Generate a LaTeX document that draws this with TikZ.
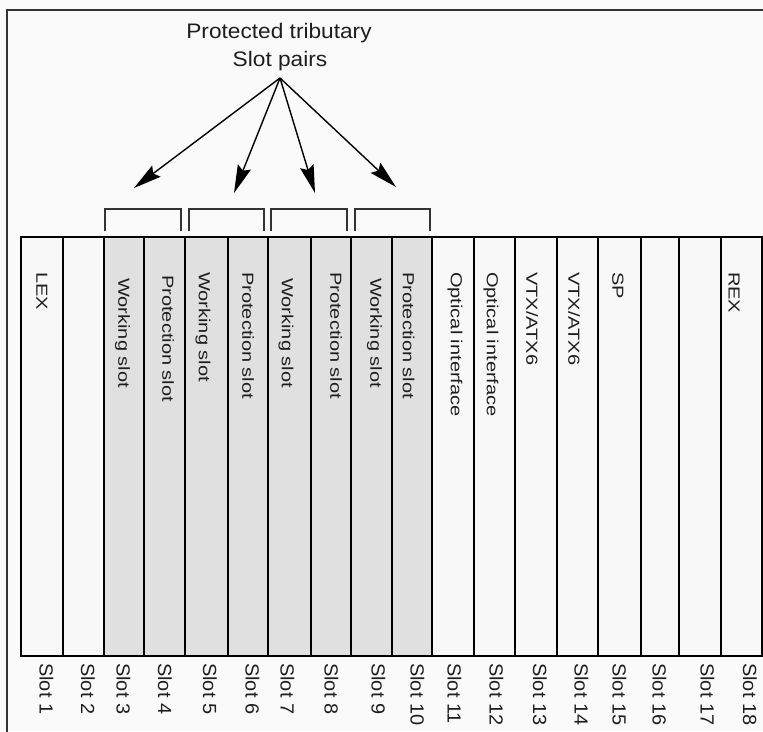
\documentclass[tikz,border=0pt]{standalone}
\usepackage{fontspec}
\setmainfont{Liberation Sans}
\usetikzlibrary{arrows.meta}
\definecolor{bg}{HTML}{FAFAFA}
\definecolor{slotgray}{HTML}{E0E0E0}
\definecolor{slotwhite}{HTML}{F8F8F8}
\definecolor{ink}{HTML}{1E1E1E}
\definecolor{framecol}{HTML}{333333}
\newcommand\vlabtxt[1]{\scalebox{1.25}[1]{#1}}
\newcommand\slabtxt[1]{\scalebox{1.05}[1]{#1}}
\newcommand\ttltxt[1]{\scalebox{1.08}[1]{#1}}
\tikzset{
  slotcell/.style={draw=black, line width=2pt, inner sep=0pt, outer sep=0pt, minimum height=419pt},
  graycell/.style={slotcell, fill=slotgray},
  whitecell/.style={slotcell, fill=slotwhite},
  collabel/.style={rotate=-90, anchor=west, inner sep=0pt, text=ink, font=\fontsize{16}{16}\selectfont},
  slotlabel/.style={rotate=-90, anchor=west, inner sep=0pt, text=ink, font=\fontsize{19}{19}\selectfont},
  titlelabel/.style={anchor=base, inner sep=0pt, text=ink, font=\fontsize{21}{21}\selectfont},
  pairbracket/.style={draw=framecol, line width=2pt},
  pointer/.style={draw=black, line width=1.4pt, -{Stealth[length=28pt,width=14pt,inset=4pt]}},
  outerframe/.style={draw=framecol, line width=2pt}
}
\begin{document}
\begin{tikzpicture}[x=1pt,y=-1pt]
\useasboundingbox (0,0) rectangle (763,731);
\clip (0,0) rectangle (763,731);
\fill[bg] (0,0) rectangle (763,731);
\draw[outerframe] (7,745) -- (7,10) -- (775,10);
% slots
\foreach \l/\r/\i/\st in {21/63/1/whitecell, 63/104/2/whitecell, 104/144/3/graycell, 144/185/4/graycell,
  185/228/5/graycell, 228/268/6/graycell, 268/311/7/graycell, 311/351/8/graycell, 351/392/9/graycell,
  392/432/10/graycell, 432/474/11/whitecell, 474/515/12/whitecell, 515/557/13/whitecell, 557/598/14/whitecell,
  598/641/15/whitecell, 641/679/16/whitecell, 679/721/17/whitecell, 721/762/18/whitecell}{
  \pgfmathsetmacro\cx{(\l+\r)/2}
  \pgfmathsetmacro\cellw{\r-\l}
  \node[\st, minimum width=\cellw pt] (s\i) at (\cx,446.5) {};
}
% column labels
\node[collabel] (c1) at (42,272) {\vlabtxt{LEX}};
\node[collabel] (c3) at (122.5,278) {\vlabtxt{Working slot}};
\node[collabel] (c4) at (168,275) {\vlabtxt{Protection slot}};
\node[collabel] (c5) at (203,272) {\vlabtxt{Working slot}};
\node[collabel] (c6) at (248,272) {\vlabtxt{Protection slot}};
\node[collabel] (c7) at (286,278) {\vlabtxt{Working slot}};
\node[collabel] (c8) at (336,272) {\vlabtxt{Protection slot}};
\node[collabel] (c9) at (374.5,278) {\vlabtxt{Working slot}};
\node[collabel] (c10) at (408.5,272) {\vlabtxt{Protection slot}};
\node[collabel] (c11) at (455,272) {\vlabtxt{Optical interface}};
\node[collabel] (c12) at (491,272) {\vlabtxt{Optical interface}};
\node[collabel] (c13) at (532,272) {\vlabtxt{VTX/ATX6}};
\node[collabel] (c14) at (574,272) {\vlabtxt{VTX/ATX6}};
\node[collabel] (c15) at (618,272) {\vlabtxt{SP}};
\node[collabel] (c18) at (734,272) {\vlabtxt{REX}};
% slot number labels
\foreach \x/\i in {46.5/1, 88/2, 123.5/3, 165/4, 210/5, 252.5/6, 287.5/7, 331.5/8, 378.5/9,
  417.5/10, 454.5/11, 496.5/12, 540/13, 581.5/14, 619.5/15, 659.5/16, 707.5/17, 750/18}{
  \node[slotlabel] (n\i) at (\x,663) {\slabtxt{Slot \i}};
}
% title
\node[titlelabel] (title1) at (279,38) {\ttltxt{Protected tributary}};
\node[titlelabel] (title2) at (280,66) {\ttltxt{Slot pairs}};
% brackets
\draw[pairbracket] (105,231) -- (105,209) -- (181,209) -- (181,231);
\draw[pairbracket] (189,231) -- (189,209) -- (264,209) -- (264,231);
\draw[pairbracket] (271,231) -- (271,209) -- (347,209) -- (347,231);
\draw[pairbracket] (355,231) -- (355,209) -- (430,209) -- (430,231);
% arrows
\coordinate (apex) at (280,78);
\coordinate (t1) at (134,188);
\coordinate (t2) at (234,193);
\coordinate (t3) at (315,193);
\coordinate (t4) at (396,187);
\foreach \t in {t1,t2,t3,t4}{\draw[pointer] (apex) -- (\t);}
\end{tikzpicture}
\end{document}
